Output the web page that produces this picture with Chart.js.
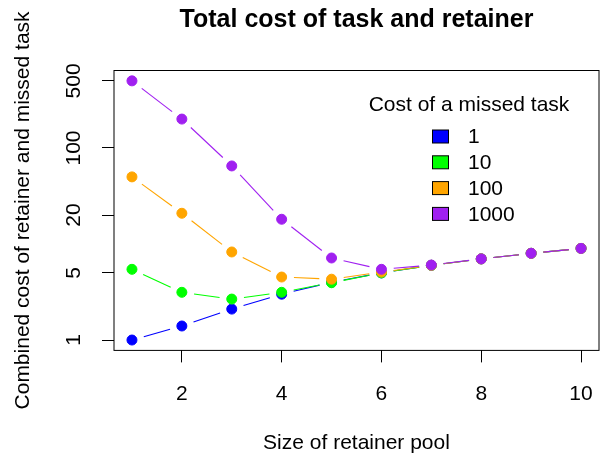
<!DOCTYPE html>
<html>
<head>
<meta charset="utf-8">
<script src="https://cdn.jsdelivr.net/npm/chart.js@4.4.1/dist/chart.umd.min.js"></script>
<style>
    html, body { margin: 0; padding: 0; background: #fff; }
    #wrap { width: 605px; height: 456px; }
</style>
</head>
<body>
<div id="wrap"><canvas id="costChart" width="605" height="456"></canvas></div>
<script>
const poolSizes = [1, 2, 3, 4, 5, 6, 7, 8, 9, 10];
const missedCostLabels = ["1", "10", "100", "1000"];
const cost1 = [1, 1.4, 2.1, 3.0, 4.0, 5.0, 6.0, 7.0, 8.0, 9.0];
const cost10 = [5.45, 3.14, 2.67, 3.14, 3.95, 5.0, 6.0, 7.0, 8.0, 9.0];
const cost100 = [50, 20.9, 8.26, 4.53, 4.3, 5.1, 6.0, 7.0, 8.0, 9.0];
const cost1000 = [500, 200, 65, 18.1, 7.15, 5.45, 6.04, 7.0, 8.0, 9.0];
const xTicks = [2, 4, 6, 8, 10];
const yTicks = [1, 2, 5, 10, 20, 50, 100, 200, 500];
const yTickLabels = [1, 5, 20, 100, 500];

(function () {
    const FONT = "'Liberation Sans', Arial, sans-serif";
    const colors = ["#0000FF", "#00FF00", "#FFA500", "#A020F0"];
    const series = [cost1, cost10, cost100, cost1000];

    Chart.defaults.color = "#000";
    Chart.defaults.font.family = FONT;
    Chart.defaults.font.size = 21;

    // R style type="b": lines stop short of each point
    const gappedLines = {
        id: "gappedLines",
        beforeDatasetDraw(chart, args) {
            const ctx = chart.ctx;
            const pts = args.meta.data;
            const gap = 12.3;
            ctx.save();
            ctx.strokeStyle = chart.data.datasets[args.index].borderColor;
            ctx.lineWidth = 1.1;
            for (let i = 0; i < pts.length - 1; i++) {
                const a = pts[i], b = pts[i + 1];
                const dx = b.x - a.x, dy = b.y - a.y;
                const len = Math.hypot(dx, dy);
                if (len <= gap * 2) continue;
                const ux = dx / len, uy = dy / len;
                ctx.beginPath();
                ctx.moveTo(a.x + ux * gap, a.y + uy * gap);
                ctx.lineTo(b.x - ux * gap, b.y - uy * gap);
                ctx.stroke();
            }
            ctx.restore();
        }
    };

    // box around the plot region and the main title centred over it
    const plotFrame = {
        id: "plotFrame",
        afterDraw(chart) {
            const { ctx, chartArea } = chart;
            ctx.save();
            ctx.strokeStyle = "#000";
            ctx.lineWidth = 1;
            ctx.strokeRect(chartArea.left, chartArea.top, chartArea.right - chartArea.left, chartArea.bottom - chartArea.top);
            ctx.font = "bold 25px " + FONT;
            ctx.fillStyle = "#000";
            ctx.textAlign = "center";
            ctx.textBaseline = "middle";
            ctx.fillText("Total cost of task and retainer", (chartArea.left + chartArea.right) / 2, 20);
            ctx.restore();
        }
    };

    const fillLegend = {
        id: "fillLegend",
        afterDraw(chart) {
            const ctx = chart.ctx;
            ctx.save();
            ctx.font = "21px " + FONT;
            ctx.fillStyle = "#000";
            ctx.textBaseline = "middle";
            ctx.textAlign = "center";
            ctx.fillText("Cost of a missed task", 469, 105);
            ctx.textAlign = "left";
            chart.data.datasets.forEach((ds, i) => {
                const y = 136.5 + i * 25.8;
                ctx.fillStyle = ds.backgroundColor;
                ctx.fillRect(432.5, y - 6.5, 16, 13);
                ctx.strokeStyle = "#000";
                ctx.lineWidth = 1;
                ctx.strokeRect(432.5, y - 6.5, 16, 13);
                ctx.fillStyle = "#000";
                ctx.fillText(ds.label, 468, y + 1);
            });
            ctx.restore();
        }
    };

    const datasets = series.map((vals, i) => ({
        label: missedCostLabels[i],
        data: poolSizes.map((x, j) => ({ x: x, y: vals[j] })),
        borderColor: colors[i],
        backgroundColor: colors[i],
        pointBackgroundColor: colors[i],
        pointBorderColor: colors[i],
        pointRadius: 5,
        pointBorderWidth: 1,
        showLine: false,
        order: series.length - i
    }));

    new Chart(document.getElementById("costChart"), {
        type: "scatter",
        data: { datasets: datasets },
        options: {
            responsive: false,
            animation: false,
            layout: { padding: { left: 0, right: 5, top: 70.5, bottom: 0 } },
            plugins: {
                legend: { display: false },
                tooltip: { enabled: false },
                title: { display: false }
            },
            scales: {
                x: {
                    type: "linear",
                    min: 0.64,
                    max: 10.36,
                    afterBuildTicks(scale) {
                        scale.ticks = xTicks.map((v) => ({ value: v }));
                    },
                    afterFit(scale) {
                        scale.height = 105.6;
                        scale.paddingLeft = 0;
                        scale.paddingRight = 0;
                    },
                    ticks: { padding: 19, callback: (v) => String(v) },
                    grid: { drawOnChartArea: false, drawTicks: true, tickLength: 12, tickColor: "#000" },
                    border: { display: false },
                    title: {
                        display: true,
                        text: "Size of retainer pool",
                        padding: { top: 0, bottom: 0.5 }
                    }
                },
                y: {
                    type: "logarithmic",
                    min: 0.7798,
                    max: 641.0,
                    afterBuildTicks(scale) {
                        scale.ticks = yTicks.map((v) => ({ value: v }));
                    },
                    afterFit(scale) {
                        scale.width = 114;
                        scale.paddingTop = 0;
                        scale.paddingBottom = 0;
                    },
                    ticks: {
                        padding: 10,
                        minRotation: 90,
                        maxRotation: 90,
                        crossAlign: "center",
                        callback: (v) => (yTickLabels.includes(v) ? String(v) : "")
                    },
                    grid: { drawOnChartArea: false, drawTicks: true, tickLength: 12, tickColor: "#000" },
                    border: { display: false },
                    title: {
                        display: true,
                        text: "Combined cost of retainer and missed task",
                        padding: { top: 11, bottom: 0 }
                    }
                }
            }
        },
        plugins: [gappedLines, plotFrame, fillLegend]
    });
})();
</script>
</body>
</html>
